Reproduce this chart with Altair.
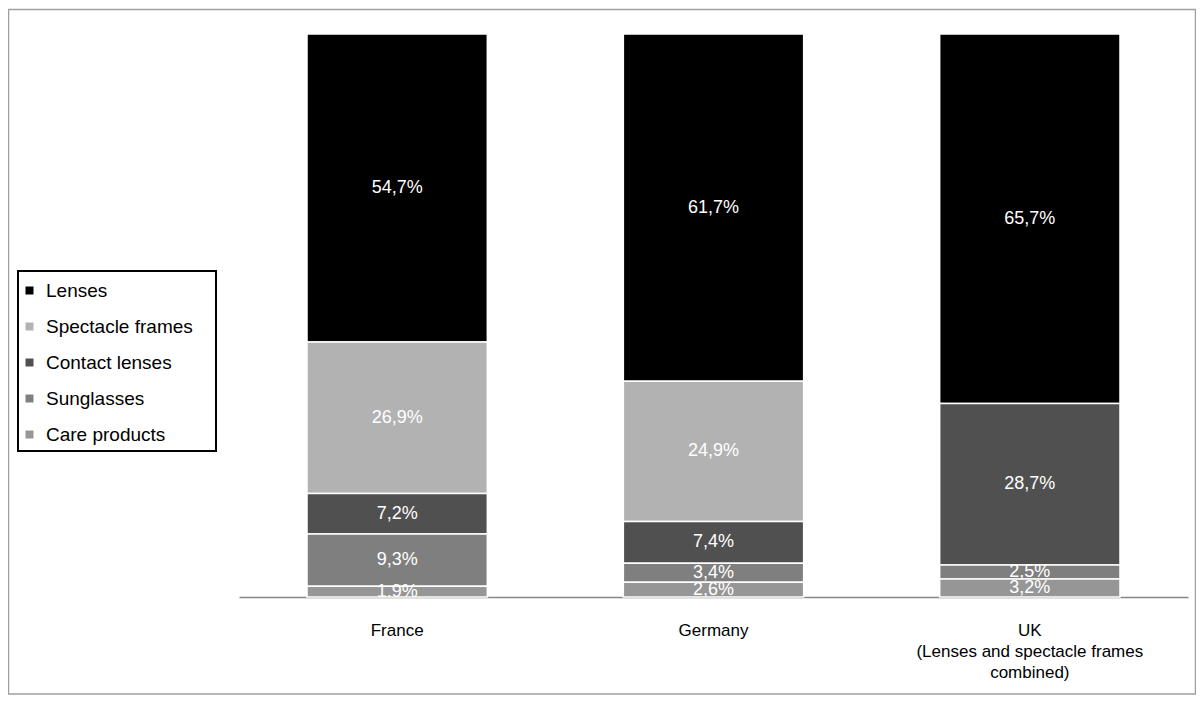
import altair as alt
import pandas as pd

countries = ["France", "Germany", "UK"]
segments = ["Lenses", "Spectacle frames", "Contact lenses", "Sunglasses", "Care products"]
colors = ["#000000", "#b2b2b2", "#505050", "#7f7f7f", "#969696"]
# values per segment, per country (None = not reported separately)
lenses = [54.7, 61.7, 65.7]
spectacle_frames = [26.9, 24.9, None]
contact_lenses = [7.2, 7.4, 28.7]
sunglasses = [9.3, 3.4, 2.5]
care_products = [1.9, 2.6, 3.2]

series = [lenses, spectacle_frames, contact_lenses, sunglasses, care_products]
rows = []
for si, (seg, vals) in enumerate(zip(segments, series)):
    for c, v in zip(countries, vals):
        if v is None:
            continue
        rows.append({
            "country": c,
            "segment": seg,
            "value": v,
            "order": len(segments) - si,  # care products at bottom
            "label": f"{v:.1f}".replace(".", ",") + "%",
        })
df = pd.DataFrame(rows)

FONT = "Liberation Sans"

base = alt.Chart(df).transform_stack(
    stack="value",
    groupby=["country"],
    as_=["v0", "v1"],
    offset="normalize",
    sort=[alt.SortField("order", order="ascending")],
).transform_calculate(mid="(datum.v0 + datum.v1) / 2")

x_enc = alt.X(
    "country:N",
    sort=countries,
    scale=alt.Scale(paddingInner=0.43, paddingOuter=0.215),
    axis=alt.Axis(
        title=None,
        ticks=False,
        labelAngle=0,
        labelFont=FONT,
        labelFontSize=17,
        labelColor="#000000",
        labelBaseline="top",
        labelPadding=25,
        labelLineHeight=21,
        labelLimit=500,
        domainColor="#868686",
        domainWidth=1.5,
        labelExpr="datum.value == 'UK' ? ['UK', '(Lenses and spectacle frames', 'combined)'] : datum.value",
    ),
)
y_scale = alt.Scale(domain=[0, 1], nice=False)

bars = base.mark_bar(stroke="white", strokeWidth=1.5).encode(
    x=x_enc,
    y=alt.Y("v0:Q", scale=y_scale, axis=None),
    y2="v1:Q",
    color=alt.Color(
        "segment:N",
        scale=alt.Scale(domain=segments, range=colors),
        legend=alt.Legend(
            title=None,
            orient="none",
            legendX=-219,
            legendY=247,
            padding=0,
            symbolType="square",
            symbolSize=64,
            symbolStrokeWidth=0,
            labelFont=FONT,
            labelFontSize=19,
            labelColor="#000000",
            labelOffset=7,
            rowPadding=16,
            labelLimit=300,
        ),
    ),
)

texts = base.mark_text(color="white", font=FONT, fontSize=18, clip=True, baseline="middle").encode(
    x=alt.X("country:N", sort=countries),
    y=alt.Y("mid:Q", scale=y_scale),
    text="label:N",
)

deco = pd.DataFrame({"k": [0]})
legend_box = alt.Chart(deco).mark_rect(fillOpacity=0, stroke="#000000", strokeWidth=2).encode(
    x=alt.value(-221), x2=alt.value(-23), y=alt.value(237), y2=alt.value(417)
)
frame = alt.Chart(deco).mark_rect(fillOpacity=0, stroke="#a0a0a0", strokeWidth=1.5).encode(
    x=alt.value(-230.5), x2=alt.value(956.5), y=alt.value(-24.5), y2=alt.value(660)
)

chart = alt.layer(frame, bars, texts, legend_box).properties(
    width=949,
    height=563,
    background="white",
    padding={"left": 231, "top": 26, "right": 8, "bottom": 98},
    autosize=alt.AutoSizeParams(type="none"),
).configure_view(strokeWidth=0)

chart.save("out.html", embed_options={"renderer": "svg", "actions": False})
